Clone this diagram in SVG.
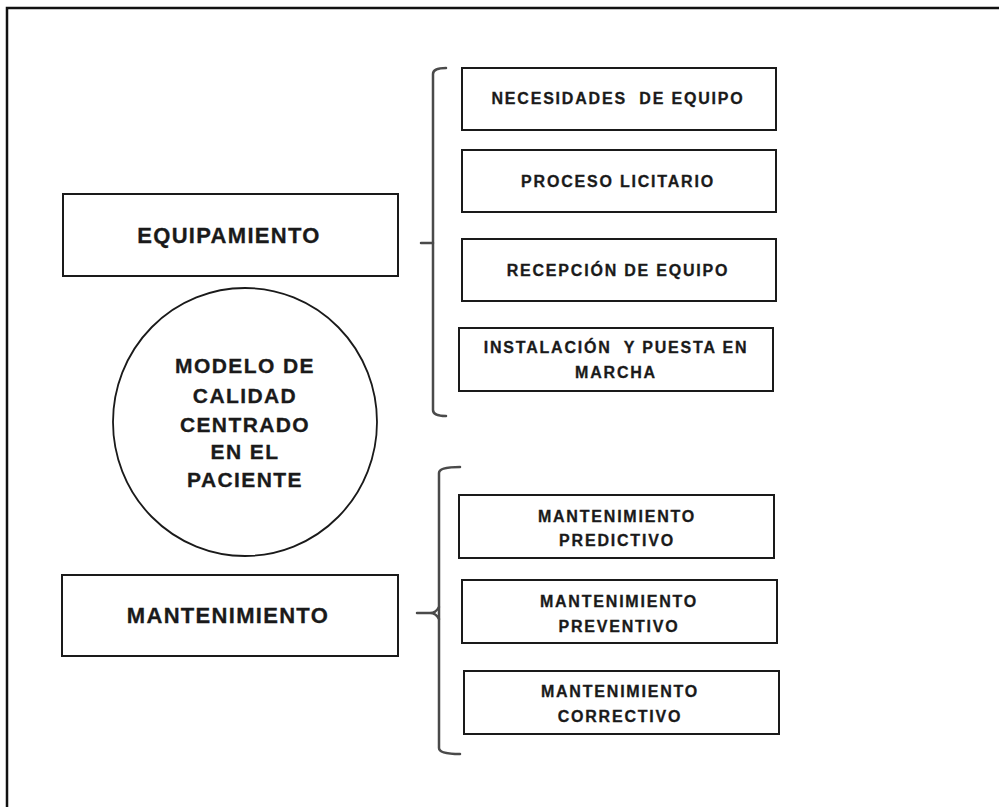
<svg xmlns="http://www.w3.org/2000/svg" width="999" height="807" viewBox="0 0 999 807">
<style>
.box{fill:#fff;stroke:#1a1a1a;stroke-width:2}
.t{font-family:"Liberation Sans",Arial,sans-serif;font-weight:bold;fill:#1a1a1a;stroke:#1a1a1a;stroke-width:0.3;text-anchor:middle;white-space:pre}
.s{font-size:16px;letter-spacing:1.8px}
.m{font-size:22px;letter-spacing:1.3px}
.c{font-size:21px;letter-spacing:1.4px}
.br{fill:none;stroke:#4a4a4a;stroke-width:2.5;stroke-linecap:round;stroke-linejoin:round}
</style>
<rect x="0" y="0" width="999" height="807" fill="#fff"/>
<path d="M7,807 V8 H999" fill="none" stroke="#111" stroke-width="2.5"/>

<g id="connectors">
  <path class="br" d="M446,68 Q433,68 433,74 V410 Q433,416 446,416"/>
  <path class="br" d="M421,243 H433"/>
  <path class="br" d="M460,467 Q439,467 439,473 V748 Q439,754 460,754"/>
  <path class="br" d="M417,613 H430 Q436,613 439,607 M430,613 Q436,613 439,619"/>
</g>

<g id="equipamiento">
  <rect class="box" x="63" y="194" width="335" height="82"/>
  <text class="t m" x="229" y="243">EQUIPAMIENTO</text>
</g>

<g id="modelo">
  <ellipse cx="245" cy="422" rx="132" ry="134" fill="#fff" stroke="#1a1a1a" stroke-width="1.8"/>
  <text class="t c" x="245" y="373">MODELO DE</text>
  <text class="t c" x="245" y="403">CALIDAD</text>
  <text class="t c" x="245" y="432">CENTRADO</text>
  <text class="t c" x="245" y="459">EN EL</text>
  <text class="t c" x="245" y="487">PACIENTE</text>
</g>

<g id="mantenimiento">
  <rect class="box" x="62" y="575" width="336" height="81"/>
  <text class="t m" x="228" y="623">MANTENIMIENTO</text>
</g>

<g id="necesidades">
  <rect class="box" x="462" y="68" width="314" height="62"/>
  <text class="t s" x="618" y="104" xml:space="preserve">NECESIDADES  DE EQUIPO</text>
</g>
<g id="proceso">
  <rect class="box" x="462" y="150" width="314" height="62"/>
  <text class="t s" x="618" y="187">PROCESO LICITARIO</text>
</g>
<g id="recepcion">
  <rect class="box" x="462" y="239" width="314" height="62"/>
  <text class="t s" x="618" y="276">RECEPCIÓN DE EQUIPO</text>
</g>
<g id="instalacion">
  <rect class="box" x="459" y="328" width="314" height="63"/>
  <text class="t s" x="616" y="353" xml:space="preserve">INSTALACIÓN  Y PUESTA EN</text>
  <text class="t s" x="616" y="378">MARCHA</text>
</g>

<g id="predictivo">
  <rect class="box" x="459" y="495" width="315" height="63"/>
  <text class="t s" x="617" y="522">MANTENIMIENTO</text>
  <text class="t s" x="617" y="546">PREDICTIVO</text>
</g>
<g id="preventivo">
  <rect class="box" x="462" y="580" width="315" height="63"/>
  <text class="t s" x="619" y="607">MANTENIMIENTO</text>
  <text class="t s" x="619" y="632">PREVENTIVO</text>
</g>
<g id="correctivo">
  <rect class="box" x="464" y="671" width="315" height="63"/>
  <text class="t s" x="620" y="697">MANTENIMIENTO</text>
  <text class="t s" x="620" y="722">CORRECTIVO</text>
</g>
</svg>
